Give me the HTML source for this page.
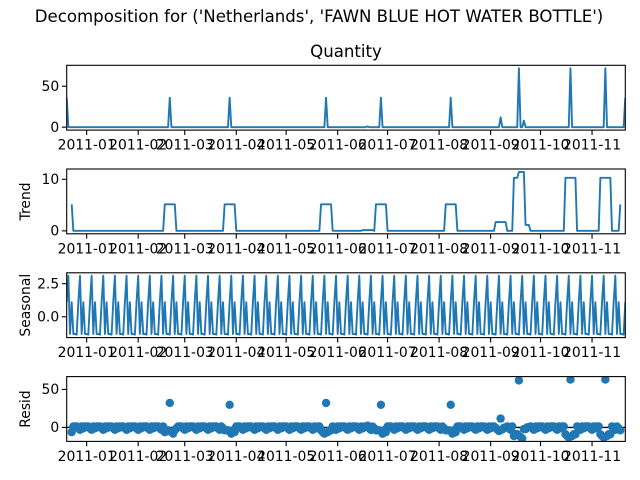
<!DOCTYPE html>
<html><head><meta charset="utf-8"><style>
html,body{margin:0;padding:0;background:#fff;}
svg{display:block;font-family:"DejaVu Sans","Liberation Sans",sans-serif;}
</style></head><body>
<svg id="chart" width="640" height="480" viewBox="0 0 640 480" xmlns="http://www.w3.org/2000/svg">
<rect width="640" height="480" fill="#fff"/>
<text x="319" y="22" font-size="16.6" text-anchor="middle" fill="#000">Decomposition for ('Netherlands', 'FAWN BLUE HOT WATER BOTTLE')</text>
<text x="346" y="57" font-size="16.6" text-anchor="middle" fill="#000">Quantity</text>
</svg>
<script>
// Observed data: day offsets from 2010-12-20 (daily series, 337 days), zero except these
const numDays = 337;
const spikeDays = [0, 62, 98, 156, 181, 189, 231, 261, 272, 275, 303, 324, 336];
const spikeValues = [36, 36, 36, 36, 1, 36, 36, 12, 72, 8, 72, 72, 36];
// Seasonal pattern (period 7), index = day % 7
const seasonalPattern = [1.1, 3.1, -1.3, 1.1, -1.3, -1.3, -1.35];
// X ticks
const tickDays = [12, 43, 71, 102, 132, 163, 193, 224, 255, 285, 316];
const tickLabels = ["2011-01","2011-02","2011-03","2011-04","2011-05","2011-06","2011-07","2011-08","2011-09","2011-10","2011-11"];
// Y ticks per panel
const qtyTicks = [0, 50];
const trendTicks = [0, 10];
const seasonalTicks = [0, 2.5];
const seasonalTickLabels = ["0.0", "2.5"];
const residTicks = [0, 50];

const NS = "http://www.w3.org/2000/svg";
const svg = document.getElementById("chart");
const BLUE = "#1f77b4";
const X0 = 66.7, X1 = 625.3;
const xScale = d => X0 + (d - 0) / (numDays - 1) * (X1 - X0);

function mk(tag, attrs, parent) {
  const e = document.createElementNS(NS, tag);
  for (const k in attrs) e.setAttribute(k, attrs[k]);
  (parent || svg).appendChild(e);
  return e;
}

const observed = new Array(numDays).fill(0);
spikeDays.forEach((d, i) => { observed[d] = spikeValues[i]; });
const trend = new Array(numDays).fill(null);
for (let i = 3; i < numDays - 3; i++) {
  let s = 0; for (let j = i - 3; j <= i + 3; j++) s += observed[j];
  trend[i] = s / 7;
}
const seasonal = observed.map((_, i) => seasonalPattern[i % 7]);
const resid = observed.map((v, i) => trend[i] === null ? null : v - trend[i] - seasonal[i]);

function limits(vals) {
  const v = vals.filter(x => x !== null);
  const mn = Math.min(...v), mx = Math.max(...v), m = (mx - mn) * 0.05;
  return [mn - m, mx + m];
}

const panels = [
  {name: "quantity", top: 65.3, vals: observed, ticks: qtyTicks, labels: qtyTicks.map(String), ylabel: null, type: "line"},
  {name: "trend", top: 169, vals: trend, ticks: trendTicks, labels: trendTicks.map(String), ylabel: "Trend", type: "line"},
  {name: "seasonal", top: 272.8, vals: seasonal, ticks: seasonalTicks, labels: seasonalTickLabels, ylabel: "Seasonal", type: "line"},
  {name: "resid", top: 376.6, vals: resid, ticks: residTicks, labels: residTicks.map(String), ylabel: "Resid", type: "dots"}
];
const H = 64.8;

panels.forEach(p => {
  const [lo, hi] = limits(p.vals);
  const y = v => p.top + H - (v - lo) / (hi - lo) * H;
  const g = mk("g", {});
  
  
  const clipId = "clip-" + p.name;
  const cp = mk("clipPath", {id: clipId}, g);
  mk("rect", {x: X0, y: p.top, width: X1 - X0, height: H}, cp);
  const plot = mk("g", {"clip-path": "url(#" + clipId + ")"}, g);
  if (p.type === "line") {
    let d = "", pen = false;
    p.vals.forEach((v, i) => {
      if (v === null) { pen = false; return; }
      d += (pen ? "L" : "M") + xScale(i).toFixed(2) + "," + y(v).toFixed(2);
      pen = true;
    });
    const path = mk("path", {d: d, fill: "none", stroke: BLUE, "stroke-width": 1.9, "stroke-linejoin": "round"}, plot);
    
    
  } else {
    const zl = mk("line", {x1: X0, x2: X1, y1: y(0), y2: y(0), stroke: "#000", "stroke-width": 1.4}, plot);
    
    
    p.vals.forEach((v, i) => {
      if (v === null) return;
      const c = mk("circle", {cx: xScale(i), cy: y(v), r: 4.2, fill: BLUE}, plot);
      
      
    });
  }
  const frame = mk("rect", {x: X0, y: p.top, width: X1 - X0, height: H, fill: "none", stroke: "#000", "stroke-width": 1.1}, g);
  
  
  p.ticks.forEach((t, i) => {
    const yy = y(t);
    mk("line", {x1: X0 - 4.9, x2: X0, y1: yy, y2: yy, stroke: "#000", "stroke-width": 1.1}, g);
    const tx = mk("text", {x: X0 - 7.5, y: yy + 4.8, "font-size": 13.9, "text-anchor": "end", fill: "#000"}, g);
    tx.textContent = p.labels[i];
    
    
  });
  const bottom = p.top + H;
  tickDays.forEach((d, i) => {
    const xx = xScale(d);
    mk("line", {x1: xx, x2: xx, y1: bottom, y2: bottom + 4.9, stroke: "#000", "stroke-width": 1.1}, g);
    const tx = mk("text", {x: xx, y: bottom + 19.5, "font-size": 13.9, "text-anchor": "middle", fill: "#000"}, g);
    tx.textContent = tickLabels[i];
    
    
  });
  if (p.ylabel) {
    const cy = p.top + H / 2;
    const yl = mk("text", {x: 30, y: cy, "font-size": 13.9, "text-anchor": "middle", fill: "#000", transform: "rotate(-90 30 " + cy + ")"}, g);
    yl.textContent = p.ylabel;
    
    
  }
});
</script>
</body></html>
